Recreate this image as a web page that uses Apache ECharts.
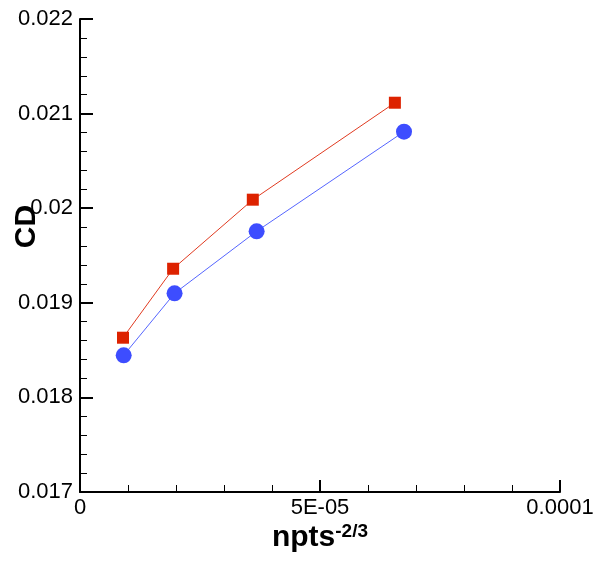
<!DOCTYPE html>
<html>
<head>
<meta charset="utf-8">
<script src="https://cdn.jsdelivr.net/npm/echarts@6/dist/echarts.min.js"></script>
<style>
  html, body { margin: 0; padding: 0; background: #fff; }
  #chart { width: 596px; height: 561px; }
</style>
</head>
<body>
<div id="chart"></div>
<script>
  // red squares
  var redX = [8.96e-6, 1.94e-5, 3.60e-5, 6.56e-5]
  var redY = [0.018631, 0.019360, 0.020090, 0.021115]
  // blue circles
  var blueX = [9.1e-6, 1.97e-5, 3.68e-5, 6.75e-5]
  var blueY = [0.018445, 0.019100, 0.019756, 0.020809]
  // tick labels on x
  var xTicks = [0, 5e-5, 1e-4]
  var xTickLabels = ['0', '5E-05', '0.0001']

  function pairs(xs, ys) {
    return xs.map(function (x, i) { return [x, ys[i]] })
  }

  var chart = echarts.init(document.getElementById('chart'))
  var axisFont = 'Liberation Sans, Arial, sans-serif'
  var option = {
    animation: false,
    grid: { left: 80, right: 36, top: 19, bottom: 69, outerBoundsMode: 'none', containLabel: false },
    xAxis: {
      type: 'value',
      min: 0,
      max: 1e-4,
      interval: 5e-5,
      name: '{b|npts}{s|-2/3}',
      nameLocation: 'middle',
      nameGap: 30,
      nameMoveOverlap: false,
      nameTextStyle: {
        rich: {
          b: { fontSize: 30, fontWeight: 'bold', fontFamily: axisFont, color: '#000' },
          s: { fontSize: 19, fontWeight: 'bold', fontFamily: axisFont, color: '#000', padding: [0, 0, 13, 0] }
        }
      },
      axisLine: { lineStyle: { color: '#000', width: 2 } },
      axisTick: { inside: true, length: 12, lineStyle: { color: '#000', width: 2 } },
      minorTick: { show: true, splitNumber: 5, length: 7, lineStyle: { color: '#000', width: 1 } },
      splitLine: { show: false },
      axisLabel: {
        fontSize: 22, color: '#000', fontFamily: axisFont, margin: 5,
        showMaxLabel: true,
        formatter: function (v) {
          for (var i = 0; i < xTicks.length; i++) {
            if (Math.abs(v - xTicks[i]) < 1e-9) return xTickLabels[i]
          }
          return ''
        }
      }
    },
    yAxis: {
      type: 'value',
      min: 0.017,
      max: 0.022,
      interval: 0.001,
      name: 'CD',
      nameLocation: 'middle',
      nameRotate: 90,
      nameGap: 38,
      nameMoveOverlap: false,
      nameTextStyle: {
        fontSize: 30, fontWeight: 'bold', fontFamily: axisFont, color: '#000',
        padding: [0, 0, 0, 58]
      },
      axisLine: { lineStyle: { color: '#000', width: 2 } },
      axisTick: { inside: true, length: 13, lineStyle: { color: '#000', width: 2 } },
      minorTick: { show: true, splitNumber: 5, length: 7, lineStyle: { color: '#000', width: 1 } },
      splitLine: { show: false },
      axisLabel: {
        fontSize: 22, color: '#000', fontFamily: axisFont, margin: 7,
        formatter: function (v) { return String(parseFloat(v.toFixed(3))) }
      }
    },
    series: [
      {
        name: 'red',
        type: 'line',
        data: pairs(redX, redY),
        symbol: 'rect',
        symbolSize: 12,
        itemStyle: { color: '#dd2200' },
        lineStyle: { color: '#e03a20', width: 1 }
      },
      {
        name: 'blue',
        type: 'line',
        data: pairs(blueX, blueY),
        symbol: 'circle',
        symbolSize: 16,
        itemStyle: { color: '#3d4dff' },
        lineStyle: { color: '#5565ff', width: 1 }
      }
    ]
  }
  chart.setOption(option)
</script>
</body>
</html>
